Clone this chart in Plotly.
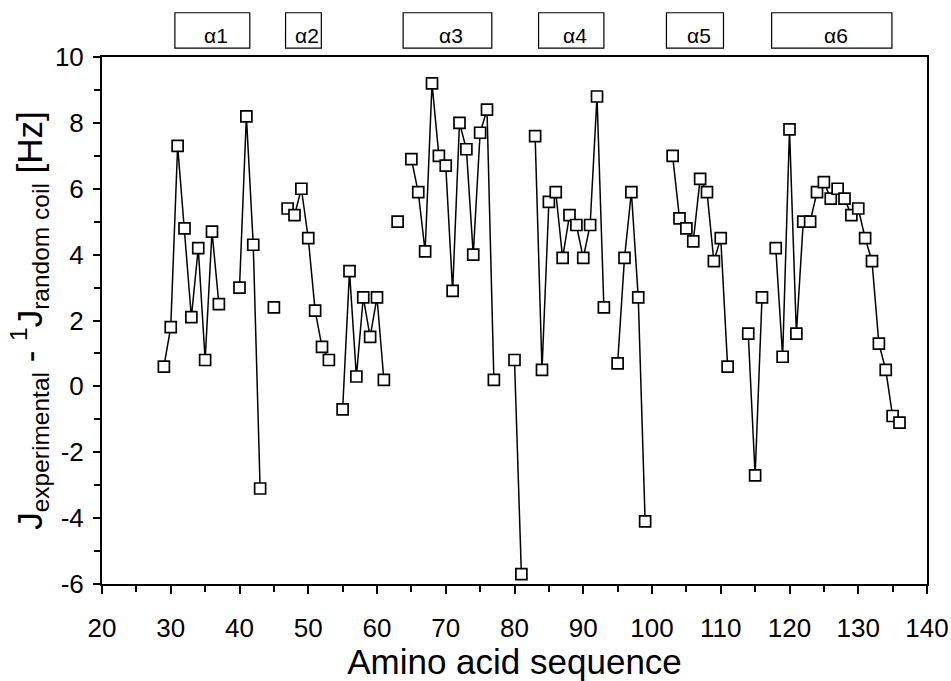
import plotly.graph_objects as go

# Residue numbers and J_exp - 1J_random coil values (Hz)
residues = [29, 30, 31, 32, 33, 34, 35, 36, 37,
            40, 41, 42, 43,
            45,
            47, 48, 49, 50, 51, 52, 53,
            55, 56, 57, 58, 59, 60, 61,
            63,
            65, 66, 67, 68, 69, 70, 71, 72, 73, 74, 75, 76, 77,
            80, 81,
            83, 84, 85, 86, 87, 88, 89, 90, 91, 92, 93,
            95, 96, 97, 98, 99,
            103, 104, 105, 106, 107, 108, 109, 110, 111,
            114, 115, 116,
            118, 119, 120, 121, 122, 123, 124, 125, 126, 127, 128, 129, 130,
            131, 132, 133, 134, 135, 136]
delta_j = [0.6, 1.8, 7.3, 4.8, 2.1, 4.2, 0.8, 4.7, 2.5,
           3.0, 8.2, 4.3, -3.1,
           2.4,
           5.4, 5.2, 6.0, 4.5, 2.3, 1.2, 0.8,
           -0.7, 3.5, 0.3, 2.7, 1.5, 2.7, 0.2,
           5.0,
           6.9, 5.9, 4.1, 9.2, 7.0, 6.7, 2.9, 8.0, 7.2, 4.0, 7.7, 8.4, 0.2,
           0.8, -5.7,
           7.6, 0.5, 5.6, 5.9, 3.9, 5.2, 4.9, 3.9, 4.9, 8.8, 2.4,
           0.7, 3.9, 5.9, 2.7, -4.1,
           7.0, 5.1, 4.8, 4.4, 6.3, 5.9, 3.8, 4.5, 0.6,
           1.6, -2.7, 2.7,
           4.2, 0.9, 7.8, 1.6, 5.0, 5.0, 5.9, 6.2, 5.7, 6.0, 5.7, 5.2, 5.4,
           4.5, 3.8, 1.3, 0.5, -0.9, -1.1]

# Helix annotations
helix_names = ["α1", "α2", "α3", "α4", "α5", "α6"]
helix_start = [30.6, 46.7, 63.8, 83.5, 102.1, 117.4]
helix_end = [41.5, 51.9, 76.7, 93.0, 110.4, 134.9]

x_ticks = list(range(20, 141, 10))
y_ticks = list(range(-6, 11, 2))
y_tick_labels = [str(v) for v in y_ticks]

assert len(residues) == len(delta_j)

# break the line where residues are not consecutive
xs, ys = [], []
for i, (r, v) in enumerate(zip(residues, delta_j)):
    if i > 0 and r - residues[i - 1] > 1:
        xs.append(None)
        ys.append(None)
    xs.append(r)
    ys.append(v)

FONT = "Liberation Sans, Arial, sans-serif"

fig = go.Figure()
fig.add_trace(go.Scatter(
    x=xs, y=ys, mode="lines+markers", connectgaps=False,
    line=dict(color="black", width=1.5),
    marker=dict(symbol="square", size=11, color="white",
                line=dict(color="black", width=1.7)),
    showlegend=False, hoverinfo="x+y",
))

for name, s, e in zip(helix_names, helix_start, helix_end):
    fig.add_shape(type="rect", xref="x", yref="paper", x0=s, x1=e,
                  y0=1.017, y1=1.084, line=dict(color="black", width=1.2),
                  fillcolor="rgba(0,0,0,0)", layer="below")
    fig.add_annotation(x=(s + e) / 2, y=1.041, xref="x", yref="paper",
                       text=name, showarrow=False, xshift=4,
                       xanchor="center", yanchor="middle",
                       font=dict(family=FONT, size=21, color="black"))

fig.update_layout(
    width=951, height=681,
    margin=dict(l=102, r=24, t=57, b=97),
    paper_bgcolor="white", plot_bgcolor="white",
    font=dict(family=FONT, color="black"),
)
fig.update_xaxes(
    range=[20, 140], tickvals=x_ticks, ticks="outside", ticklen=8,
    tickwidth=1.5, tickcolor="black", ticklabelstandoff=12,
    minor=dict(dtick=5, tick0=20, ticks="outside", ticklen=6, tickwidth=1.5,
               tickcolor="black", showgrid=False),
    showgrid=False, zeroline=False, showline=True, linecolor="black",
    linewidth=2, mirror=True, automargin=False,
    tickfont=dict(size=26, family=FONT),
    title=dict(text="Amino acid sequence", font=dict(size=35, family=FONT),
               standoff=9),
)
fig.update_yaxes(
    range=[-6, 10], tickvals=y_ticks, ticktext=y_tick_labels,
    ticks="outside", ticklen=7,
    tickwidth=1.5, tickcolor="black", ticklabelstandoff=4,
    minor=dict(dtick=1, tick0=0, ticks="outside", ticklen=6, tickwidth=1.5,
               tickcolor="black", showgrid=False),
    showgrid=False, zeroline=False, showline=True, linecolor="black",
    linewidth=2, mirror=True, automargin=False,
    tickfont=dict(size=26, family=FONT),
    title=dict(text="J<sub>experimental</sub> - <sup>1</sup>J<sub>random coil</sub> [Hz]",
               font=dict(size=35, family=FONT), standoff=2),
)

fig.write_html(
    "out.html",
    config={"displayModeBar": False},
    post_script="document.body.style.margin='0';document.body.style.overflow='hidden';",
)
